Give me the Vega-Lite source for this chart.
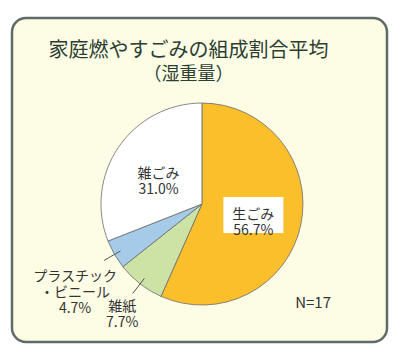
{
  "$schema": "https://vega.github.io/schema/vega-lite/v6.json",
  "width": 375,
  "height": 324,
  "autosize": {"type": "none"},
  "padding": {"left": 12, "top": 18, "right": 13, "bottom": 15},
  "background": "#ffffff",
  "config": {
    "view": {"fill": "#FDFDE6", "stroke": "#5E6B66", "strokeWidth": 2.5, "cornerRadius": 14},
    "font": "Noto Sans CJK JP"
  },
  "title": {
    "text": "家庭燃やすごみの組成割合平均",
    "subtitle": "（湿重量）",
    "anchor": "middle",
    "orient": "top",
    "offset": -66,
    "dx": -11,
    "font": "Noto Sans CJK JP",
    "fontSize": 20,
    "fontWeight": "normal",
    "color": "#2C3E32",
    "subtitleFont": "Noto Sans CJK JP",
    "subtitleFontSize": 18,
    "subtitleColor": "#2C3E32",
    "subtitlePadding": 5
  },
  "data": {
    "values": [
      {"idx": 1, "name": "生ごみ", "pct": 56.7},
      {"idx": 2, "name": "雑紙", "pct": 7.7},
      {"idx": 3, "name": "プラスチック・ビニール", "pct": 4.7},
      {"idx": 4, "name": "雑ごみ", "pct": 31.0}
    ]
  },
  "transform": [
    {"window": [{"op": "sum", "field": "pct", "as": "cum"}], "sort": [{"field": "idx"}], "frame": [null, 0]},
    {"joinaggregate": [{"op": "sum", "field": "pct", "as": "total"}]},
    {"calculate": "(datum.cum - datum.pct / 2) / datum.total * 2 * PI", "as": "mid"},
    {"calculate": "datum.pct < 10", "as": "outside"},
    {"calculate": "datum.outside ? (indexof(datum.name, '・') >= 0 ? 1.45 : 1.29) : 0.52", "as": "lr"},
    {"calculate": "datum.lr * sin(datum.mid)", "as": "lx"},
    {"calculate": "datum.lr * cos(datum.mid)", "as": "ly"},
    {"calculate": "0.93 * sin(datum.mid)", "as": "r1x"},
    {"calculate": "0.93 * cos(datum.mid)", "as": "r1y"},
    {"calculate": "1.12 * sin(datum.mid)", "as": "r2x"},
    {"calculate": "1.12 * cos(datum.mid)", "as": "r2y"},
    {"calculate": "replace(datum.name, '・', '\\n・') + '\\n' + format(datum.pct, '.1f') + '%'", "as": "label"}
  ],
  "layer": [
    {
      "mark": {"type": "arc", "outerRadius": 101, "stroke": "#6b6b6b", "strokeWidth": 0.8},
      "encoding": {
        "theta": {"field": "pct", "type": "quantitative", "stack": true},
        "order": {"field": "idx", "type": "quantitative"},
        "color": {
          "field": "name", "type": "nominal", "legend": null,
          "scale": {
            "domain": ["生ごみ", "雑紙", "プラスチック・ビニール", "雑ごみ"],
            "range": ["#FABF2B", "#CDE3A5", "#A5CBE8", "#FFFFFF"]
          }
        },
        "x": {"datum": 0, "type": "quantitative", "scale": {"domain": [-1.881, 1.832], "nice": false, "zero": false}, "axis": null},
        "y": {"datum": 0, "type": "quantitative", "scale": {"domain": [-1.366, 1.842], "nice": false, "zero": false}, "axis": null}
      }
    },
    {
      "transform": [{"filter": "!datum.outside"}],
      "mark": {"type": "point", "shape": "M-1,-0.6H1V0.6H-1Z", "filled": true, "color": "#FFFFFF", "opacity": 1, "size": 3600},
      "encoding": {
        "x": {"field": "lx", "type": "quantitative"},
        "y": {"field": "ly", "type": "quantitative"}
      }
    },
    {
      "transform": [{"filter": "datum.outside"}],
      "mark": {"type": "rule", "color": "#555555", "strokeWidth": 1},
      "encoding": {
        "x": {"field": "r1x", "type": "quantitative"},
        "y": {"field": "r1y", "type": "quantitative"},
        "x2": {"field": "r2x"},
        "y2": {"field": "r2y"}
      }
    },
    {
      "mark": {"type": "text", "lineBreak": "\n", "fontSize": 14, "lineHeight": 16, "color": "#333333", "align": "center", "baseline": "middle", "font": "Noto Sans CJK JP"},
      "encoding": {
        "x": {"field": "lx", "type": "quantitative"},
        "y": {"field": "ly", "type": "quantitative"},
        "text": {"field": "label"}
      }
    },
    {
      "data": {"values": [{"note": "N=17"}]},
      "mark": {"type": "text", "fontSize": 15, "color": "#333333", "align": "center", "baseline": "middle", "font": "Noto Sans CJK JP"},
      "encoding": {
        "x": {"datum": 1.1, "type": "quantitative"},
        "y": {"datum": -0.98, "type": "quantitative"},
        "text": {"field": "note"}
      }
    }
  ]
}
